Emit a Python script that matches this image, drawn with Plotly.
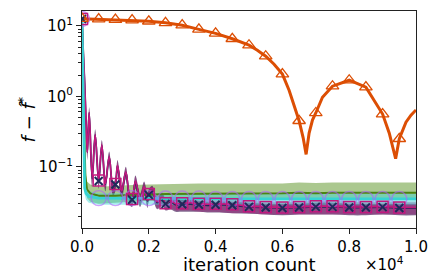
import plotly.graph_objects as go

# ---------------- data ----------------
# orange (triangles)
orange_x = [0, 500, 1000, 1500, 2000, 2500, 3000, 3500, 4000, 4500, 5000, 5250, 5500, 5750, 6000,
            6200, 6400, 6500, 6620, 6710, 6800, 6900, 7000, 7200, 7500, 8000, 8500, 8800, 9000,
            9200, 9390, 9500, 9700, 9850, 10000]
orange_y = [12.6, 12.4, 12.2, 12.0, 11.6, 11.0, 10.2, 8.9, 7.8, 6.55, 5.3, 4.5, 3.7, 2.85, 2.06,
            1.22, 0.64, 0.45, 0.26, 0.15, 0.30, 0.46, 0.58, 0.97, 1.39, 1.69, 1.35, 0.80, 0.56,
            0.30, 0.13, 0.25, 0.43, 0.54, 0.64]

# magenta (squares) and navy (x) share an iteration grid
osc_x = [0, 40, 80, 120, 160, 215, 305, 395, 500, 593, 700, 814, 930, 1000, 1063, 1190, 1311,
         1440, 1500, 1600, 1740, 1860, 1960, 2000, 2100, 2250, 2400, 2500, 2650, 2800, 3000,
         3250, 3500, 3750, 4000, 4500, 5000, 5500, 6000, 6500, 7000, 7500, 8000, 8500, 9000,
         9500, 10000]
magenta_y = [12.5, 4.0, 1.5, 0.45, 0.16, 0.59, 0.07, 0.285, 0.064, 0.205, 0.058, 0.14, 0.05, 0.057,
             0.105, 0.045, 0.085, 0.036, 0.035, 0.063, 0.035, 0.052, 0.034, 0.041, 0.046, 0.032,
             0.037, 0.0305, 0.033, 0.030, 0.0305, 0.031, 0.030, 0.0295, 0.0298, 0.0295, 0.0275,
             0.027, 0.0265, 0.027, 0.0275, 0.0275, 0.027, 0.027, 0.0272, 0.0265, 0.0265]
magenta_hi = [13.5, 4.6, 1.75, 0.52, 0.19, 0.66, 0.082, 0.32, 0.075, 0.23, 0.067, 0.158, 0.058,
              0.066, 0.12, 0.052, 0.097, 0.042, 0.041, 0.073, 0.041, 0.06, 0.04, 0.047, 0.053,
              0.038, 0.043, 0.036, 0.038, 0.036, 0.036, 0.036, 0.035, 0.034, 0.034, 0.034, 0.033,
              0.032, 0.032, 0.032, 0.033, 0.033, 0.032, 0.032, 0.032, 0.032, 0.032]
magenta_lo = [11.5, 3.4, 1.25, 0.38, 0.135, 0.5, 0.058, 0.245, 0.053, 0.175, 0.048, 0.12, 0.042,
              0.048, 0.089, 0.037, 0.072, 0.03, 0.029, 0.053, 0.029, 0.044, 0.028, 0.034, 0.039,
              0.026, 0.03, 0.025, 0.026, 0.024, 0.024, 0.024, 0.023, 0.023, 0.023, 0.022, 0.022,
              0.021, 0.021, 0.021, 0.021, 0.021, 0.021, 0.021, 0.021, 0.021, 0.021]
navy_y = [12.5, 4.0, 1.5, 0.45, 0.16, 0.58, 0.068, 0.28, 0.063, 0.2, 0.057, 0.137, 0.049, 0.056,
          0.103, 0.044, 0.083, 0.035, 0.034, 0.061, 0.034, 0.05, 0.033, 0.04, 0.045, 0.031, 0.036,
          0.0298, 0.032, 0.029, 0.0295, 0.0295, 0.029, 0.0285, 0.029, 0.0285, 0.027, 0.0265,
          0.026, 0.0265, 0.027, 0.027, 0.0265, 0.0265, 0.0268, 0.026, 0.026]
navy_hi = [14, 4.8, 1.85, 0.55, 0.2, 0.7, 0.086, 0.34, 0.078, 0.24, 0.07, 0.165, 0.06, 0.068,
           0.125, 0.054, 0.1, 0.043, 0.042, 0.075, 0.042, 0.062, 0.041, 0.048, 0.054, 0.037,
           0.042, 0.035, 0.036, 0.034, 0.034, 0.034, 0.033, 0.032, 0.032, 0.032, 0.031, 0.03,
           0.03, 0.03, 0.031, 0.031, 0.03, 0.03, 0.03, 0.03, 0.03]
navy_lo = [11, 3.2, 1.15, 0.35, 0.125, 0.46, 0.052, 0.225, 0.049, 0.16, 0.045, 0.11, 0.039,
           0.045, 0.082, 0.034, 0.066, 0.028, 0.027, 0.049, 0.027, 0.04, 0.026, 0.032, 0.036,
           0.025, 0.028, 0.024, 0.025, 0.023, 0.023, 0.023, 0.023, 0.0225, 0.0225, 0.022,
           0.0215, 0.021, 0.0205, 0.021, 0.021, 0.021, 0.0205, 0.0205, 0.021, 0.0205, 0.0205]

# green band
green_x = [0, 25, 50, 75, 100, 150, 250, 500, 1000, 1500, 2000, 2500, 3000, 3500, 4000, 4500,
           5000, 5500, 6000, 6500, 7000, 7500, 8000, 8500, 9000, 9500, 10000]
green_y = [10, 3, 0.8, 0.2, 0.075, 0.048, 0.042, 0.039, 0.039, 0.04, 0.04, 0.041, 0.041, 0.041,
           0.042, 0.042, 0.042, 0.042, 0.042, 0.043, 0.042, 0.043, 0.043, 0.043, 0.043, 0.043, 0.043]
green_hi = [11, 3.6, 1.0, 0.26, 0.1, 0.062, 0.056, 0.052, 0.054, 0.055, 0.056, 0.057, 0.057, 0.058,
            0.058, 0.058, 0.059, 0.058, 0.058, 0.06, 0.059, 0.06, 0.06, 0.06, 0.06, 0.06, 0.06]
green_lo = [9, 2.5, 0.6, 0.15, 0.055, 0.036, 0.032, 0.03, 0.031, 0.032, 0.033, 0.033, 0.033, 0.034,
            0.034, 0.034, 0.034, 0.034, 0.034, 0.035, 0.034, 0.035, 0.035, 0.035, 0.035, 0.035, 0.035]

# cyan (circles)
cyan_x = [0, 20, 40, 60, 80, 120, 200, 500, 1000, 1500, 2000, 2500, 3000, 3500, 4000, 4500, 5000,
          5500, 6000, 6500, 7000, 7500, 8000, 8500, 9000, 9500, 10000]
cyan_y = [12.5, 3, 0.5, 0.1, 0.05, 0.042, 0.038, 0.036, 0.036, 0.036, 0.036, 0.0355, 0.0355,
          0.0355, 0.035, 0.035, 0.035, 0.035, 0.035, 0.035, 0.035, 0.035, 0.035, 0.035, 0.035,
          0.035, 0.035]
cyan_hi = [13.5, 3.5, 0.6, 0.12, 0.06, 0.05, 0.045, 0.042, 0.042, 0.042, 0.042, 0.041, 0.041,
           0.041, 0.041, 0.041, 0.041, 0.041, 0.041, 0.041, 0.041, 0.041, 0.041, 0.041, 0.041,
           0.041, 0.041]
cyan_lo = [11.5, 2.5, 0.4, 0.08, 0.04, 0.034, 0.031, 0.029, 0.029, 0.029, 0.029, 0.029, 0.029,
           0.029, 0.029, 0.029, 0.029, 0.029, 0.029, 0.029, 0.029, 0.029, 0.029, 0.029, 0.029,
           0.029, 0.029]

x_tick_vals = [0, 2000, 4000, 6000, 8000, 10000]
x_tick_text = ["0.0", "0.2", "0.4", "0.6", "0.8", "1.0"]
y_tick_vals = [0.1, 1, 10]
y_tick_text = ["10<sup>−1</sup>", "10<sup>0</sup>", "10<sup>1</sup>"]
MARK_STEP = 500
MARK_END = 9500

# ---------------- styles ----------------
C_ORANGE = "#dc4e04"
C_MAGENTA = "#c2187e"
C_NAVY = "#1f2a5a"
C_GREEN = "#4a8412"
C_CYAN = "#36d3d3"
FONT = "DejaVu Sans"

fig = go.Figure()


def band(x, lo, hi, fill, shape="linear"):
    fig.add_trace(go.Scatter(x=x, y=hi, mode="lines", line=dict(width=0, shape=shape),
                             hoverinfo="skip", showlegend=False))
    fig.add_trace(go.Scatter(x=x, y=lo, mode="lines", line=dict(width=0, shape=shape),
                             fill="tonexty", fillcolor=fill, hoverinfo="skip", showlegend=False))


def marks(x, y):
    mx, my = [], []
    for xi, yi in zip(x, y):
        if xi % MARK_STEP == 0 and xi <= MARK_END:
            mx.append(xi)
            my.append(yi)
    return mx, my


band(green_x, green_lo, green_hi, "rgba(80,140,20,0.48)")
band(osc_x, navy_lo, navy_hi, "rgba(60,20,80,0.62)", "spline")
band(osc_x, magenta_lo, magenta_hi, "rgba(150,20,110,0.40)", "spline")
band(cyan_x, cyan_lo, cyan_hi, "rgba(60,215,215,0.45)")

fig.add_trace(go.Scatter(x=green_x, y=green_y, mode="lines", line=dict(color=C_GREEN, width=2),
                         showlegend=False))
fig.add_trace(go.Scatter(x=osc_x, y=navy_y, mode="lines",
                         line=dict(color=C_NAVY, width=1.8, shape="spline"), showlegend=False))
fig.add_trace(go.Scatter(x=osc_x, y=magenta_y, mode="lines",
                         line=dict(color=C_MAGENTA, width=1.6, shape="spline"), showlegend=False))
fig.add_trace(go.Scatter(x=cyan_x, y=cyan_y, mode="lines", line=dict(color=C_CYAN, width=2.8),
                         showlegend=False))
fig.add_trace(go.Scatter(x=orange_x, y=orange_y, mode="lines", line=dict(color=C_ORANGE, width=3),
                         showlegend=False))

mx, my = marks(cyan_x, cyan_y)
fig.add_trace(go.Scatter(x=mx, y=my, mode="markers", showlegend=False,
                         marker=dict(symbol="circle-open", size=15, opacity=0.6,
                                     line=dict(color=C_CYAN, width=1.4))))
mx, my = marks(osc_x, magenta_y)
fig.add_trace(go.Scatter(x=mx, y=my, mode="markers", showlegend=False,
                         marker=dict(symbol="square-open", size=11, color=C_MAGENTA,
                                     line=dict(color=C_MAGENTA, width=1.5))))
mx, my = marks(osc_x, navy_y)
fig.add_trace(go.Scatter(x=mx, y=my, mode="markers", showlegend=False,
                         marker=dict(symbol="x-thin-open", size=8, color=C_NAVY,
                                     line=dict(color=C_NAVY, width=2))))
mx, my = marks(orange_x, orange_y)
fig.add_trace(go.Scatter(x=mx, y=my, mode="markers", showlegend=False,
                         marker=dict(symbol="triangle-up-open", size=11, color=C_ORANGE,
                                     line=dict(color=C_ORANGE, width=1.3))))

minor_vals = []
for e in [-2, -1, 0, 1]:
    for k in range(2, 10):
        minor_vals.append(k * 10.0 ** e)

# the page body has an 8px margin, so the figure is sized to fit inside the window
fig.update_layout(
    width=428, height=272,
    margin=dict(l=74, r=20, t=3, b=52),
    paper_bgcolor="white", plot_bgcolor="white",
    font=dict(family=FONT, size=15, color="black"),
    xaxis=dict(range=[0, 10000], tickvals=x_tick_vals, ticktext=x_tick_text,
               showline=True, linecolor="#222", linewidth=1, mirror=True,
               ticks="outside", ticklen=5, tickcolor="#222", showgrid=False, zeroline=False,
               tickfont=dict(size=15)),
    yaxis=dict(type="log", range=[-1.868, 1.2095], tickvals=y_tick_vals, ticktext=y_tick_text,
               showline=True, linecolor="#222", linewidth=1, mirror=True,
               ticks="outside", ticklen=5, tickcolor="#222", showgrid=False, zeroline=False,
               tickfont=dict(size=15),
               minor=dict(tickvals=minor_vals, ticks="outside", ticklen=3, tickcolor="#222",
                          showgrid=False)),
    annotations=[
        dict(text="iteration count", xref="paper", yref="paper", x=0.5, y=-0.168,
             xanchor="center", yanchor="middle", showarrow=False, font=dict(size=18)),
        dict(text="×10<sup>4</sup>", xref="paper", yref="paper", x=0.907, y=-0.168,
             xanchor="center", yanchor="middle", showarrow=False, font=dict(size=15)),
        dict(text="<i>f</i> − <i>f̂</i><sup>*</sup>", xref="paper", yref="paper", x=-0.165, y=0.5,
             xanchor="center", yanchor="middle", textangle=-90, showarrow=False,
             font=dict(size=18)),
    ],
)

fig.write_html("out.html")
